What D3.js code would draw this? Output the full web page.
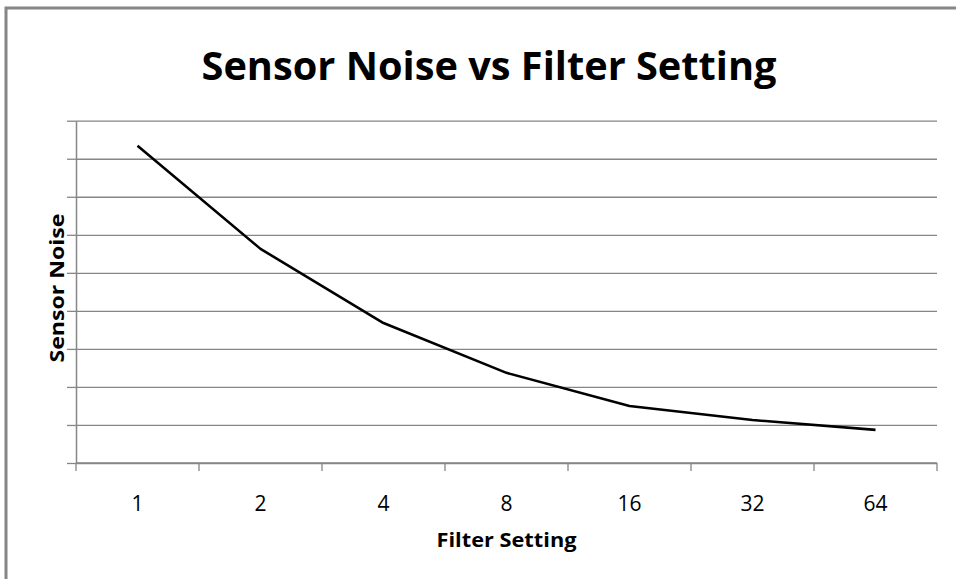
<!DOCTYPE html>
<html>
<head>
<meta charset="utf-8">
<script src="https://cdn.jsdelivr.net/npm/d3@7"></script>
<style>
  html, body { margin: 0; padding: 0; background: #fff; }
  svg { display: block; }
</style>
</head>
<body>
<script>
// ---- data ----
const categories = ["1", "2", "4", "8", "16", "32", "64"];
const noiseValues = [8.34, 5.63, 3.68, 2.37, 1.50, 1.13, 0.87];
const yTickValues = [0, 1, 2, 3, 4, 5, 6, 7, 8, 9];
const chartTitle = "Sensor Noise vs Filter Setting";
const xAxisTitle = "Filter Setting";
const yAxisTitle = "Sensor Noise";

const W = 956, H = 579;
const plot = { left: 76, right: 937, top: 120.7, bottom: 463 };
const gridColor = "#868686";
const font = "'Open Sans', 'DejaVu Sans', sans-serif";

const svg = d3.select("body").append("svg").attr("width", W).attr("height", H);

// outer frame (extends past right/bottom edges)
svg.append("rect")
  .attr("x", 6).attr("y", 8)
  .attr("width", W + 20).attr("height", H + 20)
  .attr("fill", "#fff")
  .attr("stroke", gridColor).attr("stroke-width", 3);

const x = d3.scaleBand().domain(categories).range([plot.left, plot.right]).padding(0);
const y = d3.scaleLinear().domain([0, 9]).range([plot.bottom, plot.top]);

// gridlines
const grid = svg.append("g")
  .attr("transform", `translate(${plot.left},0)`)
  .call(d3.axisLeft(y).tickValues(yTickValues).tickSize(-(plot.right - plot.left)).tickFormat(""));
grid.select(".domain").remove();
grid.selectAll("line").attr("stroke", gridColor).attr("stroke-width", 1.3);

// y axis with outer ticks
const yAxis = svg.append("g")
  .attr("transform", `translate(${plot.left},0)`)
  .call(d3.axisLeft(y).tickValues(yTickValues).tickSize(9).tickSizeOuter(0).tickFormat(""));
yAxis.select(".domain").attr("stroke", gridColor).attr("stroke-width", 1.5);
yAxis.selectAll(".tick line").attr("stroke", gridColor).attr("stroke-width", 1.3);

// x axis: labels centred in bands, ticks at band boundaries
const xAxis = svg.append("g")
  .attr("transform", `translate(0,${plot.bottom})`)
  .call(d3.axisBottom(x).tickSize(0).tickPadding(33));
xAxis.select(".domain").remove();
xAxis.selectAll(".tick text")
  .attr("font-family", font).attr("font-size", 21).attr("fill", "#000");

svg.append("line")
  .attr("x1", plot.left).attr("x2", plot.right)
  .attr("y1", plot.bottom).attr("y2", plot.bottom)
  .attr("stroke", gridColor).attr("stroke-width", 1.5);
const boundaries = categories.map(c => x(c)).concat([x(categories[categories.length - 1]) + x.bandwidth()]);
svg.append("g").selectAll("line").data(boundaries).join("line")
  .attr("x1", d => d).attr("x2", d => d)
  .attr("y1", plot.bottom).attr("y2", plot.bottom + 8)
  .attr("stroke", gridColor).attr("stroke-width", 1.3);

// line series (straight segments)
const line = d3.line()
  .x((d, i) => x(categories[i]) + x.bandwidth() / 2)
  .y(d => y(d));
svg.append("path")
  .datum(noiseValues)
  .attr("d", line)
  .attr("fill", "none")
  .attr("stroke", "#000")
  .attr("stroke-width", 2.6)
  .attr("stroke-linejoin", "round");

// titles
svg.append("text")
  .attr("x", 489).attr("y", 80)
  .attr("text-anchor", "middle")
  .attr("font-family", font).attr("font-weight", "bold").attr("font-size", 39)
  .attr("textLength", 575).attr("lengthAdjust", "spacingAndGlyphs")
  .text(chartTitle);

svg.append("text")
  .attr("x", (plot.left + plot.right) / 2).attr("y", 547)
  .attr("text-anchor", "middle")
  .attr("font-family", font).attr("font-weight", "bold").attr("font-size", 19)
  .attr("textLength", 140).attr("lengthAdjust", "spacingAndGlyphs")
  .text(xAxisTitle);

svg.append("text")
  .attr("transform", `translate(64,288) rotate(-90)`)
  .attr("text-anchor", "middle")
  .attr("font-family", font).attr("font-weight", "bold").attr("font-size", 20)
  .attr("textLength", 149).attr("lengthAdjust", "spacingAndGlyphs")
  .text(yAxisTitle);
</script>
</body>
</html>
